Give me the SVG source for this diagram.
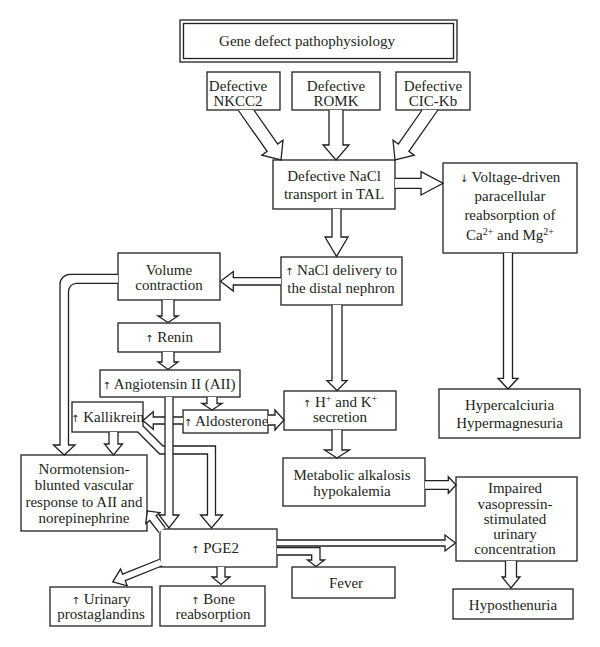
<svg xmlns="http://www.w3.org/2000/svg" width="600" height="647" viewBox="0 0 600 647">
<style>
.b{fill:#fff;stroke:#231f20;stroke-width:1.3}
.c{fill:#fff;stroke:#231f20;stroke-width:1.3;stroke-linejoin:miter}
text{font-family:"Liberation Serif","Times New Roman",serif;font-size:15px;fill:#231f20;text-anchor:middle}
.ar{font-family:"DejaVu Sans",sans-serif;font-size:10px;fill:#231f20}
.sp{font-size:10px}
</style>
<rect width="600" height="647" fill="#fff"/>
<g id="nodes">
<g id="title"><rect class="b" x="180" y="20" width="277" height="42" stroke-width="1.6"/><rect class="b" x="183.5" y="23.5" width="270" height="35"/><text x="307" y="46">Gene defect pathophysiology</text></g>
<g id="nkcc2"><rect class="b" x="207" y="72" width="73" height="38"/><text x="238" y="91">Defective</text><text x="238" y="106">NKCC2</text></g>
<g id="romk"><rect class="b" x="292" y="72" width="88" height="38"/><text x="336" y="91">Defective</text><text x="336" y="106">ROMK</text></g>
<g id="cickb"><rect class="b" x="396" y="72" width="74" height="38"/><text x="433" y="91">Defective</text><text x="433" y="106">CIC-Kb</text></g>
<g id="nacl"><rect class="b" x="273" y="160" width="122" height="49"/><text x="334" y="181">Defective NaCl</text><text x="334" y="199">transport in TAL</text></g>
<g id="voltage"><rect class="b" x="443" y="163" width="134" height="90"/><text x="510" y="182"><tspan class="ar">↓</tspan> Voltage-driven</text><text x="510" y="201">paracellular</text><text x="510" y="220">reabsorption of</text><text x="510" y="240">Ca<tspan class="sp" dy="-5">2+</tspan><tspan dy="5"> and Mg</tspan><tspan class="sp" dy="-5">2+</tspan></text></g>
<g id="delivery"><rect class="b" x="281" y="257" width="121" height="48"/><text x="341" y="274.5"><tspan class="ar">↑</tspan> NaCl delivery to</text><text x="341" y="293">the distal nephron</text></g>
<g id="volume"><rect class="b" x="118" y="253" width="102" height="47"/><text x="169" y="275">Volume</text><text x="169" y="290">contraction</text></g>
<g id="renin"><rect class="b" x="118" y="323" width="102" height="29"/><text x="169" y="342"><tspan class="ar">↑</tspan> Renin</text></g>
<g id="angiotensin"><rect class="b" x="100" y="370" width="140" height="27"/><text x="169" y="389"><tspan class="ar">↑</tspan> Angiotensin II (AII)</text></g>
<g id="kallikrein"><rect class="b" x="72" y="402" width="71" height="30"/><text x="107.5" y="421.5"><tspan class="ar">↑</tspan> Kallikrein</text></g>
<g id="aldosterone"><rect class="b" x="183" y="410" width="85" height="23"/><text x="226" y="425.5"><tspan class="ar">↑</tspan> Aldosterone</text></g>
<g id="hk"><rect class="b" x="284" y="391" width="112" height="39"/><text x="340" y="406.5"><tspan class="ar">↑</tspan> H<tspan class="sp" dy="-5">+</tspan><tspan dy="5"> and K</tspan><tspan class="sp" dy="-5">+</tspan></text><text x="340" y="422">secretion</text></g>
<g id="hyper"><rect class="b" x="439" y="389" width="141" height="49"/><text x="509.5" y="410">Hypercalciuria</text><text x="509.5" y="428">Hypermagnesuria</text></g>
<g id="metabolic"><rect class="b" x="283" y="458" width="142" height="48"/><text x="352" y="479.5">Metabolic alkalosis</text><text x="352" y="495.5">hypokalemia</text></g>
<g id="impaired"><rect class="b" x="456" y="477" width="121" height="84"/><text x="515" y="493">Impaired</text><text x="515" y="508.5">vasopressin-</text><text x="515" y="524">stimulated</text><text x="515" y="539">urinary</text><text x="515" y="554">concentration</text></g>
<g id="normotension"><rect class="b" x="21" y="455" width="126" height="76"/><text x="84" y="474">Normotension-</text><text x="84" y="490">blunted vascular</text><text x="84" y="506.5">response to AII and</text><text x="84" y="522.5">norepinephrine</text></g>
<g id="pge2"><rect class="b" x="160" y="529" width="117" height="38"/><text x="215" y="553"><tspan class="ar">↑</tspan> PGE2</text></g>
<g id="fever"><rect class="b" x="292" y="567" width="103" height="31"/><text x="346" y="588">Fever</text></g>
<g id="urinary"><rect class="b" x="50" y="587" width="102" height="39"/><text x="101" y="604"><tspan class="ar">↑</tspan> Urinary</text><text x="101" y="619">prostaglandins</text></g>
<g id="bone"><rect class="b" x="160" y="586" width="105" height="40"/><text x="213" y="604"><tspan class="ar">↑</tspan> Bone</text><text x="213" y="619">reabsorption</text></g>
<g id="hyposthenuria"><rect class="b" x="453" y="589" width="120" height="30"/><text x="513" y="609.5">Hyposthenuria</text></g>
</g>
<g id="connectors">
<path class="c" d="M238.1,110 L267.1,151.4 L261.8,155.2 L281,160 L283,140.2 L277.7,144 L253.9,110"/>
<path class="c" d="M329,110 V145 H323 L336,160 L349,145 H343 V110"/>
<path class="c" d="M437.9,110 L408.9,151.4 L414.2,155.2 L395,160 L393,140.2 L398.3,144 L422.1,110"/>
<path class="c" d="M395,178.3 H421 V171.7 L443,183.3 L421,195 V188.3 H395"/>
<path class="c" d="M332,209 V237 H325 L336.5,256.5 L348,237 H341 V209"/>
<path class="c" d="M281,277.7 H233.3 V271.5 L220.5,281.3 L233.3,291.1 V285 H281"/>
<path class="c" d="M118,274.3 H70 A10,10 0 0 0 60,284.3 V445 H53.5 L64.2,455 L75,445 H68.5 V291.3 A8,8 0 0 1 76.5,283.3 H118"/>
<path class="c" d="M162,300 V316 H158 L168,322.5 L178,316 H174 V300"/>
<path class="c" d="M162,352 V362 H158 L168,369.5 L178,362 H174 V352"/>
<path class="c" d="M207,397 V403.5 H202 L212,410 L222,403.5 H217 V397"/>
<path class="c" d="M268,415 H275 V410 L284,420 L275,430 V425 H268"/>
<path class="c" d="M183,417 H153.3 V411.7 L143,420.5 L153.3,429.3 V424 H183"/>
<path class="c" d="M109,432 V444 H104.5 L113.5,455 L122.5,444 H118 V432"/>
<path class="c" d="M143,426 L163,446 H215.5 V515 H222.5 L211.5,528 L200.5,515 H207.5 V454 H159.7 L137.7,432"/>
<path class="c" d="M165,397 V515 H159 L169,528 L179,515 H173 V397"/>
<path class="c" d="M332,305 V380.7 H327 L337,390.5 L347,380.7 H342 V305"/>
<path class="c" d="M332,430 V450 H324.5 L337,458 L349.5,450 H342 V430"/>
<path class="c" d="M503.5,253 V378.3 H498 L508,389 L518,378.3 H512.5 V253"/>
<path class="c" d="M425,480.7 H448.3 V476.7 L456,485 L448.3,493.3 V489.3 H425"/>
<path class="c" d="M277,540 H445 V535 L455.5,543 L445,551 V546 H277"/>
<path class="c" d="M277,547.7 H320 V560 H324.5 L316,566.5 L307.5,560 H311.7 V555 H277"/>
<path class="c" d="M217,567 V577 H212 L221,584.5 L230,577 H225 V567"/>
<path class="c" d="M505.5,561 V577 H502 L511,588 L520,577 H516.5 V561"/>
<path class="c" d="M0,-3.5 H40 V-9 L52,0 L40,9 V3.5 H0" transform="translate(161,562.5) rotate(158.1)"/>
<path class="c" d="M0,-4 H15 V-9 L24,0 L15,9 V4 H0" transform="translate(162,530) rotate(232.6)"/>
</g>
</svg>
